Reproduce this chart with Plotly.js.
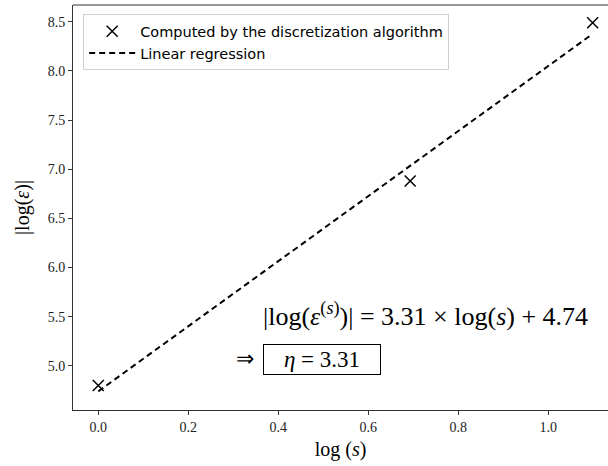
<!DOCTYPE html>
<html>
<head>
<meta charset="utf-8">
<script src="https://cdn.plot.ly/plotly-3.0.1.min.js"></script>
<style>html,body{margin:0;padding:0;background:#fff;}#chart{width:608px;height:466px;}</style>
</head>
<body>
<div id="chart"></div>
<script>
// Data
const logS = [0.0, 0.6931, 1.0986];
const logErr = [4.80, 6.88, 8.49];
const regX = [0.0, 1.0986];
const regY = [4.74, 8.376];
const xTicks = [0.0, 0.2, 0.4, 0.6, 0.8, 1.0];
const xTickLabels = ["0.0", "0.2", "0.4", "0.6", "0.8", "1.0"];
const yTicks = [5.0, 5.5, 6.0, 6.5, 7.0, 7.5, 8.0, 8.5];
const yTickLabels = ["5.0", "5.5", "6.0", "6.5", "7.0", "7.5", "8.0", "8.5"];
const legendNames = ["Computed by the discretization algorithm", "Linear regression"];

const serif = "Liberation Serif";
const sans = "DejaVu Sans";

const traces = [
  {
    x: logS, y: logErr, type: "scatter", mode: "markers", name: legendNames[0],
    marker: {symbol: "x-thin-open", size: 11, color: "#000", line: {color: "#000", width: 1.5}}
  },
  {
    x: regX, y: regY, type: "scatter", mode: "lines", name: legendNames[1],
    line: {color: "#000", width: 2, dash: "6px,4px"}
  }
];

function axisCommon() {
  return {
    showgrid: false, zeroline: false, showline: true, linecolor: "#333", linewidth: 1,
    ticks: "outside", ticklen: 4, tickcolor: "#333", tickwidth: 1,
    tickfont: {family: serif, size: 14, color: "#222"}
  };
}

const layout = {
  width: 608, height: 466,
  margin: {l: 73, r: 0, t: 5, b: 56},
  paper_bgcolor: "#fff", plot_bgcolor: "#fff",
  font: {family: serif},
  showlegend: true,
  legend: {
    x: 0.019, y: 0.977, xanchor: "left", yanchor: "top",
    bgcolor: "rgba(255,255,255,0.8)", bordercolor: "#d0d0d0", borderwidth: 1,
    font: {family: sans, size: 14.5, color: "#000"},
    tracegroupgap: 0, itemwidth: 46
  },
  xaxis: Object.assign(axisCommon(), {
    range: [-0.0562, 1.1327], tickvals: xTicks, ticktext: xTickLabels,
    title: {text: "log (<i>s</i>)", font: {family: serif, size: 20, color: "#000"}, standoff: 8}
  }),
  yaxis: Object.assign(axisCommon(), {
    range: [4.55, 8.67], tickvals: yTicks, ticktext: yTickLabels,
    title: {text: "|log(<i>ε</i>)|", font: {family: serif, size: 20, color: "#000"}, standoff: 12}
  }),
  shapes: [
    {type: "line", xref: "paper", yref: "paper", x0: 0, x1: 1, y0: 1, y1: 1, line: {color: "#333", width: 1}}
  ],
  annotations: [
    {
      xref: "x", yref: "y", x: 0.728, y: 5.52, showarrow: false,
      text: "|log(<i>ε</i><sup>(<i>s</i>)</sup>)| = 3.31 × log(<i>s</i>) + 4.74",
      font: {family: serif, size: 26, color: "#000"}
    },
    {
      xref: "x", yref: "y", x: 0.326, y: 5.07, showarrow: false,
      text: "⇒", font: {family: serif, size: 22, color: "#000"}
    },
    {
      xref: "x", yref: "y", x: 0.497, y: 5.06, showarrow: false,
      text: "<i>η</i> = 3.31", font: {family: serif, size: 23, color: "#000"},
      bordercolor: "#000", borderwidth: 1, borderpad: 2, bgcolor: "#fff",
      width: 112
    }
  ]
};

Plotly.newPlot("chart", traces, layout, {displayModeBar: false, staticPlot: true});
</script>
</body>
</html>
